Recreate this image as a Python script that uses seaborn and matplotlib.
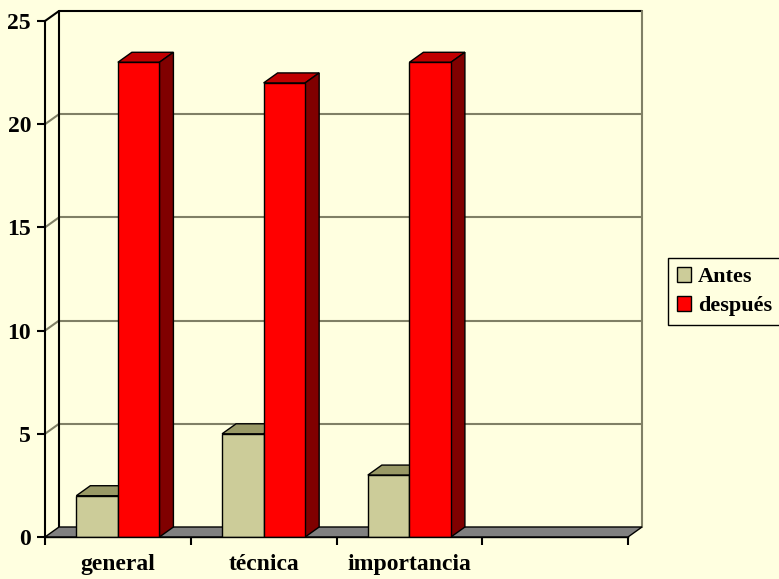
import matplotlib
matplotlib.use("Agg")
import matplotlib.pyplot as plt
import seaborn as sns
import pandas as pd
from matplotlib.patches import Polygon, Patch
from matplotlib.lines import Line2D

categories = ["general", "técnica", "importancia"]
series = ["Antes", "después"]
antes = [2, 5, 3]
despues = [23, 22, 23]
yticks = [0, 5, 10, 15, 20, 25]

df = pd.DataFrame({
    "cat": categories * 2,
    "serie": [series[0]] * len(categories) + [series[1]] * len(categories),
    "valor": antes + despues,
})

sns.set_theme(style="white")
plt.rcParams['font.family'] = ['Liberation Serif', 'DejaVu Serif']
plt.rcParams['font.weight'] = 'bold'
for k in ["text.color", "axes.labelcolor", "xtick.color", "ytick.color",
          "xtick.labelcolor", "ytick.labelcolor"]:
    plt.rcParams[k] = "black"

bg = "#FFFFE0"
face = {"Antes": "#CCCC99", "después": "#FF0000"}
top = {"Antes": "#999966", "después": "#C00000"}
side = {"Antes": "#666633", "después": "#800000"}
grid_c = "#808066"

fig = plt.figure(figsize=(7.79, 5.79), dpi=100, facecolor=bg)
W, H = 779, 579
ax = fig.add_axes([45 / W, 42 / H, 583 / W, 516 / H])
ax.set_facecolor('none')

sns.barplot(data=df, x="cat", y="valor", hue="serie", palette=face,
            width=0.57, edgecolor="black", linewidth=1.0, ax=ax,
            legend=False, saturation=1)

ax.set_xlim(-0.5, 3.5)
ax.set_ylim(0, 25)
dx = 14 / 145.75
dy = 10 / 20.64

# 3D parts for bars
bars = list(ax.patches)
n = len(categories)
for i, p in enumerate(bars):
    s = series[0] if i < n else series[1]
    z = 3 if s == series[0] else 5
    p.set_zorder(z + 0.5)
    x0 = p.get_x()
    x1 = x0 + p.get_width()
    h = p.get_height()
    ax.add_patch(Polygon([(x0, h), (x1, h), (x1 + dx, h + dy), (x0 + dx, h + dy)],
                         closed=True, facecolor=top[s], edgecolor="black",
                         linewidth=1.0, zorder=z, clip_on=False))
    ax.add_patch(Polygon([(x1, 0), (x1, h), (x1 + dx, h + dy), (x1 + dx, dy)],
                         closed=True, facecolor=side[s], edgecolor="black",
                         linewidth=1.0, zorder=z, clip_on=False))

x_left, x_right = -0.5, 3.5
# floor
ax.add_patch(Polygon([(x_left, 0), (x_right, 0), (x_right + dx, dy), (x_left + dx, dy)],
                     closed=True, facecolor="#808080", edgecolor="black",
                     linewidth=1.0, zorder=2, clip_on=False))
# back wall grid & left wall diagonals
for y in yticks[1:]:
    c = "black" if y == yticks[-1] else grid_c
    lw = 1.5
    ax.add_line(Line2D([x_left + dx, x_right + dx], [y + dy, y + dy], color=c,
                       lw=lw, zorder=1, clip_on=False))
    ax.add_line(Line2D([x_left, x_left + dx], [y, y + dy], color=c,
                       lw=lw, zorder=1, clip_on=False))
ax.add_line(Line2D([x_left + dx, x_left + dx], [dy, yticks[-1] + dy], color="black",
                   lw=1.5, zorder=1, clip_on=False))
ax.add_line(Line2D([x_right + dx, x_right + dx], [dy, yticks[-1] + dy], color=grid_c,
                   lw=1.5, zorder=1, clip_on=False))

for sp in ["top", "right"]:
    ax.spines[sp].set_visible(False)
ax.spines["left"].set_color("black")
ax.spines["left"].set_linewidth(1.5)
ax.spines["left"].set_zorder(6)
ax.spines["bottom"].set_color("black")
ax.spines["bottom"].set_linewidth(1.0)
ax.spines["bottom"].set_zorder(6)

ax.set_yticks(yticks)
ax.set_yticklabels([str(v) for v in yticks], fontsize=17, fontweight="bold", color="black")
ax.tick_params(axis="y", which="major", direction="out", length=6, width=1.5,
               color="black", pad=4, left=True)
ax.set_xticks(range(len(categories)))
ax.set_xticklabels(categories, fontsize=17, fontweight="bold", color="black")
ax.set_xticks([x_left + k for k in range(5)], minor=True)
ax.tick_params(axis="x", which="major", length=0, pad=12)
ax.tick_params(axis="x", which="minor", direction="out", length=6, width=1.5,
               color="black", bottom=True)
ax.set_xlabel("")
ax.set_ylabel("")
ax.grid(False)

handles = [Patch(facecolor=face[s], edgecolor="black", linewidth=1.0, label=s) for s in series]
leg = fig.legend(handles=handles, loc="upper left", bbox_to_anchor=(668 / W, 1 - 258 / H),
                 frameon=True, fancybox=False, edgecolor="black", facecolor=bg,
                 framealpha=1, handlelength=0.65, handleheight=0.65, handletextpad=0.3,
                 borderpad=0.4, labelspacing=0.4, borderaxespad=0,
                 prop={"family": "Liberation Serif", "weight": "bold", "size": 16})
leg.get_frame().set_linewidth(1.0)
for t in leg.get_texts():
    t.set_color("black")

fig.savefig("out.png", dpi=100, facecolor=bg)
